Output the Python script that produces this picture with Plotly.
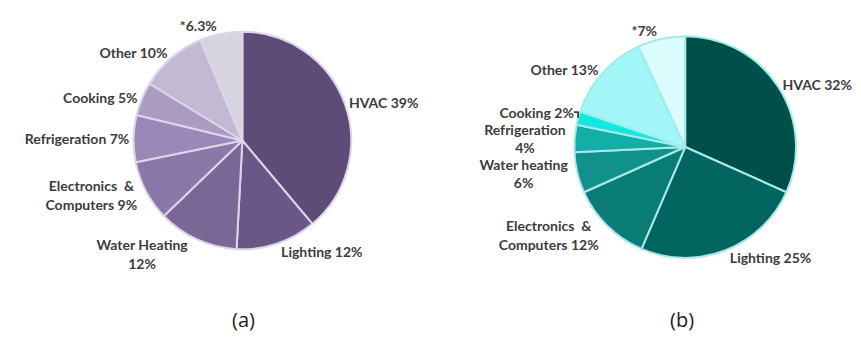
import plotly.graph_objects as go

# (a)
cats_a = ["HVAC", "Lighting", "Water Heating", "Electronics &<br>Computers", "Refrigeration", "Cooking", "Other", "*"]
vals_a = [39, 12, 12, 9, 7, 5, 10, 6.3]
text_a = ["HVAC 39%", "Lighting 12%", "Water Heating<br>12%", "Electronics  &<br>Computers 9%",
          "Refrigeration 7%", "Cooking 5%", "Other 10%", "*6.3%"]
colors_a = ["#5e4c78", "#6b5787", "#7a6796", "#8a78a9", "#9a88b8", "#a99cc0", "#c2b9d2", "#d8d3e0"]

# (b)
cats_b = ["HVAC", "Lighting", "Electronics &<br>Computers", "Water heating", "Refrigeration", "Cooking", "Other", "*"]
vals_b = [32, 25, 12, 6, 4, 2, 13, 7]
text_b = ["HVAC 32%", "Lighting 25%", "Electronics  &<br>Computers 12%", "Water heating<br>6%",
          "Refrigeration<br>4%", "Cooking 2%", "Other 13%", "*7%"]
colors_b = ["#004f4b", "#00645f", "#0a7c76", "#10918b", "#12aea8", "#10e8e0", "#a3f6f8", "#dafcfc"]

panel_labels = ["(a)", "(b)"]

label_font = dict(family="Lato, Open Sans, sans-serif", size=14, color="#3c3c3c", weight="bold")

fig = go.Figure()
fig.add_trace(go.Pie(
    labels=cats_a, values=vals_a, text=text_a, textinfo="text", textposition="outside",
    sort=False, direction="clockwise", rotation=0,
    marker=dict(colors=colors_a, line=dict(color="#ddd5ea", width=2)),
    textfont=label_font, showlegend=False, hoverinfo="label+value",
    domain=dict(x=[0.1457, 0.3987], y=[0.286, 0.930]),
))
fig.add_trace(go.Pie(
    labels=cats_b, values=vals_b, text=text_b, textinfo="text", textposition="outside",
    sort=False, direction="clockwise", rotation=0,
    marker=dict(colors=colors_b, line=dict(color="#a6eaea", width=2)),
    textfont=label_font, showlegend=False, hoverinfo="label+value",
    domain=dict(x=[0.6575, 0.9155], y=[0.2607, 0.9167]),
))

for lab, xp in zip(panel_labels, [0.258, 0.799]):
    fig.add_annotation(text=lab, x=xp, y=0.032, xref="paper", yref="paper",
                       showarrow=False, font=dict(family="Open Sans, sans-serif", size=20, color="#222222"))

fig.update_layout(
    width=861, height=338, margin=dict(l=0, r=0, t=0, b=0),
    paper_bgcolor="white", plot_bgcolor="white",
)
fig.write_html("out.html")
